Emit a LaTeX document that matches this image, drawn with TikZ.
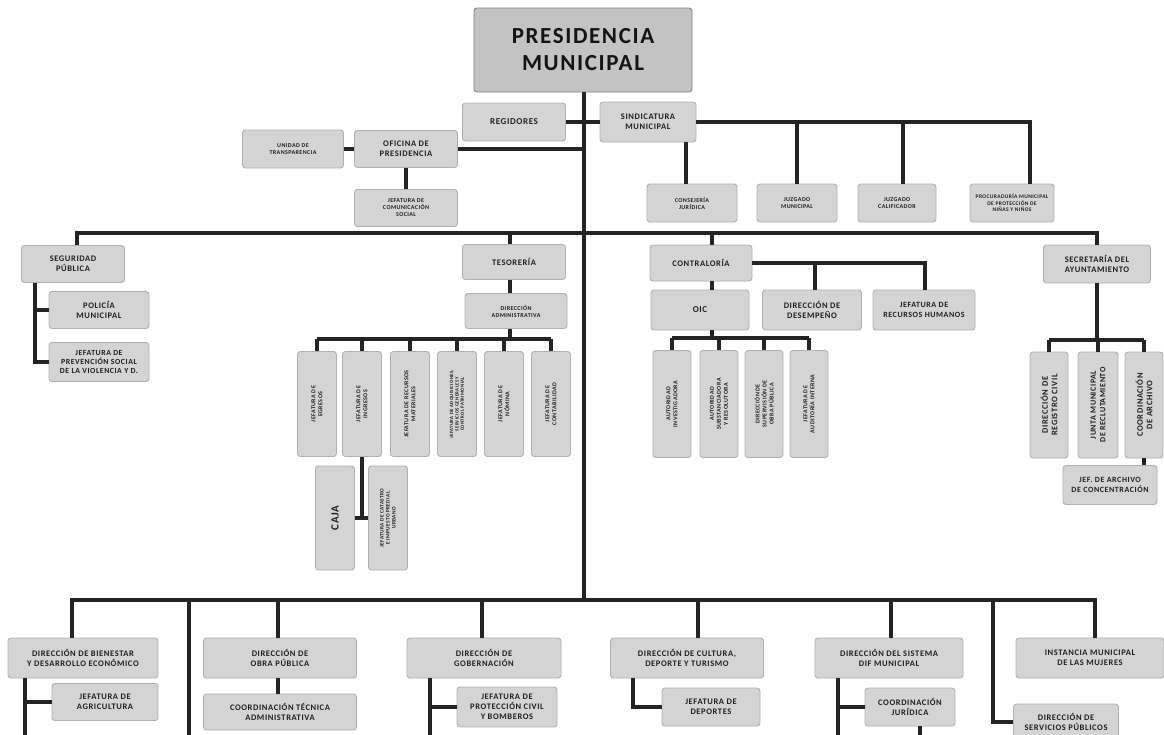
\documentclass[tikz,border=0pt]{standalone}
\usepackage{fontspec}
\setmainfont{Carlito}[LetterSpace=7]
\definecolor{cajagris}{RGB}{212,212,212}
\definecolor{bordegris}{RGB}{176,176,176}
\definecolor{lineagris}{RGB}{36,36,36}
\tikzset{
  unidad/.style={draw=bordegris, fill=cajagris, rounded corners=3pt, align=center,
    inner sep=1pt, line width=0.9pt, text=black!88,
    font=\fontsize{9}{10}\selectfont\bfseries},
  vunidad/.style={unidad, rotate=90},
  chica/.style={font=\fontsize{6}{7}\selectfont\bfseries},
  media/.style={font=\fontsize{8.5}{9.8}\selectfont\bfseries},
  linea/.style={draw=lineagris, line width=3.1pt},
}

\begin{document}
\begin{tikzpicture}[x=1pt,y=-1pt]
  \fill[white] (0,0) rectangle (1164,734);
  \clip (0,0) rectangle (1164,734);

  % arriba
  \node[unidad, minimum width=218, minimum height=84, fill=cajagris!92!black, draw=bordegris!75!black,
    font=\fontsize{23}{27}\selectfont\bfseries, text=black!92] (pres) at (583,50) {PRESIDENCIA\\MUNICIPAL};
  \node[unidad, minimum width=103, minimum height=38] (regid) at (514,122) {REGIDORES};
  \node[unidad, media, minimum width=96, minimum height=40] (sind) at (648,122) {SINDICATURA\\MUNICIPAL};
  \node[unidad, media, minimum width=103, minimum height=37] (ofpres) at (406,149) {OFICINA DE\\PRESIDENCIA};
  \node[unidad, chica, minimum width=101, minimum height=38] (transp) at (293,149) {UNIDAD DE\\TRANSPARENCIA};
  \node[unidad, chica, minimum width=103, minimum height=37] (comsoc) at (406,208) {JEFATURA DE\\COMUNICACIÓN\\SOCIAL};
  \node[unidad, chica, minimum width=90, minimum height=38] (consj) at (692,203) {CONSEJERÍA\\JURÍDICA};
  \node[unidad, chica, minimum width=80, minimum height=38] (juzmun) at (797,203) {JUZGADO\\MUNICIPAL};
  \node[unidad, chica, minimum width=78, minimum height=38] (juzcal) at (897,203) {JUZGADO\\CALIFICADOR};
  \node[unidad, font=\fontsize{5.5}{6.3}\selectfont\bfseries, minimum width=84, minimum height=38] (procu) at (1012,203) {PROCURADURÍA MUNICIPAL\\DE PROTECCIÓN DE\\NIÑAS Y NIÑOS};

  % seguridad
  \node[unidad, media, minimum width=103, minimum height=37] (segp) at (73,264) {SEGURIDAD\\PÚBLICA};
  \node[unidad, media, minimum width=100, minimum height=37] (polic) at (99,310) {POLICÍA\\MUNICIPAL};
  \node[unidad, font=\fontsize{7.8}{9}\selectfont\bfseries, minimum width=100, minimum height=39] (prevs) at (99,362) {JEFATURA DE\\PREVENCIÓN SOCIAL\\DE LA VIOLENCIA Y D.};

  % tesoreria
  \node[unidad, media, minimum width=103, minimum height=35] (teso) at (514,262) {TESORERÍA};
  \node[unidad, chica, minimum width=102, minimum height=35] (diradm) at (516,311) {DIRECCIÓN\\ADMINISTRATIVA};
  \node[vunidad, chica, minimum width=105, minimum height=39] (egr) at (317,404) {JEFATURA DE\\EGRESOS};
  \node[vunidad, chica, minimum width=105, minimum height=39] (ing) at (362,404) {JEFATURA DE\\INGRESOS};
  \node[vunidad, chica, minimum width=105, minimum height=39] (rmat) at (410,404) {JEFATURA DE RECURSOS\\MATERIALES};
  \node[vunidad, font=\fontsize{4.8}{5.4}\selectfont\bfseries, minimum width=105, minimum height=39] (adq) at (457,404) {JEFATURA DE ADQUISICIONES,\\SERVICIOS GENERALES Y\\CONTROL PATRIMONIAL};
  \node[vunidad, chica, minimum width=105, minimum height=39] (nom) at (504,404) {JEFATURA DE\\NÓMINA};
  \node[vunidad, chica, minimum width=105, minimum height=39] (contab) at (551,404) {JEFATURA DE\\CONTABILIDAD};
  \node[vunidad, font=\fontsize{11}{12}\selectfont\bfseries, minimum width=104, minimum height=39] (caja) at (335,518) {CAJA};
  \node[vunidad, font=\fontsize{5.3}{6}\selectfont\bfseries, minimum width=104, minimum height=39] (catas) at (388,518) {JEFATURA DE CATASTRO\\E IMPUESTO PREDIAL\\URBANO};

  % contraloria
  \node[unidad, media, minimum width=102, minimum height=36] (contr) at (701,263) {CONTRALORÍA};
  \node[unidad, minimum width=98, minimum height=40] (oic) at (700,310) {OIC};
  \node[unidad, media, minimum width=99, minimum height=40] (desemp) at (812,310) {DIRECCIÓN DE\\DESEMPEÑO};
  \node[unidad, font=\fontsize{8}{9.3}\selectfont\bfseries, minimum width=102, minimum height=40] (rrhh) at (924,310) {JEFATURA DE\\RECURSOS HUMANOS};
  \node[vunidad, chica, minimum width=107, minimum height=38] (ainv) at (672,404) {AUTORIDAD\\INVESTIGADORA};
  \node[vunidad, chica, minimum width=107, minimum height=38] (asub) at (719,404) {AUTORIDAD\\SUBSTANCIADORA\\Y RESOLUTORA};
  \node[vunidad, chica, minimum width=107, minimum height=38] (supob) at (764,404) {DIRECCIÓN DE\\SUPERVISIÓN DE\\OBRA PÚBLICA};
  \node[vunidad, chica, minimum width=107, minimum height=38] (audi) at (809,404) {JEFATURA DE\\AUDITORÍA INTERNA};

  % secretaria
  \node[unidad, media, minimum width=107, minimum height=38] (secr) at (1097,264) {SECRETARÍA DEL\\AYUNTAMIENTO};
  \node[vunidad, font=\fontsize{8.5}{9.5}\selectfont\bfseries, minimum width=106, minimum height=38] (regc) at (1049,405) {DIRECCIÓN DE\\REGISTRO CIVIL};
  \node[vunidad, font=\fontsize{8}{9.3}\selectfont\bfseries, minimum width=106, minimum height=40] (junta) at (1098,405) {JUNTA MUNICIPAL\\DE RECLUTAMIENTO};
  \node[vunidad, font=\fontsize{8.5}{9.5}\selectfont\bfseries, minimum width=106, minimum height=38] (coar) at (1144,405) {COORDINACIÓN\\DE ARCHIVO};
  \node[unidad, font=\fontsize{8}{9.5}\selectfont\bfseries, minimum width=94, minimum height=39] (arch) at (1110,485) {JEF. DE ARCHIVO\\DE CONCENTRACIÓN};

  % abajo
  \node[unidad, media, minimum width=150, minimum height=40] (bien) at (83,658) {DIRECCIÓN DE BIENESTAR\\Y DESARROLLO ECONÓMICO};
  \node[unidad, media, minimum width=106, minimum height=37] (agri) at (105,702) {JEFATURA DE\\AGRICULTURA};
  \node[unidad, media, minimum width=153, minimum height=40] (obra) at (280,658) {DIRECCIÓN DE\\OBRA PÚBLICA};
  \node[unidad, media, minimum width=153, minimum height=36] (coort) at (280,712) {COORDINACIÓN TÉCNICA\\ADMINISTRATIVA};
  \node[unidad, media, minimum width=154, minimum height=40] (gob) at (484,658) {DIRECCIÓN DE\\GOBERNACIÓN};
  \node[unidad, media, minimum width=100, minimum height=40] (pciv) at (507,707) {JEFATURA DE\\PROTECCIÓN CIVIL\\Y BOMBEROS};
  \node[unidad, media, minimum width=153, minimum height=40] (cult) at (687,658) {DIRECCIÓN DE CULTURA,\\DEPORTE Y TURISMO};
  \node[unidad, media, minimum width=98, minimum height=38] (deport) at (711,707) {JEFATURA DE\\DEPORTES};
  \node[unidad, media, minimum width=148, minimum height=40] (dif) at (889,658) {DIRECCIÓN DEL SISTEMA\\DIF MUNICIPAL};
  \node[unidad, media, minimum width=90, minimum height=38] (cjur) at (910,707) {COORDINACIÓN\\JURÍDICA};
  \node[unidad, media, minimum width=148, minimum height=40] (inst) at (1090,658) {INSTANCIA MUNICIPAL\\DE LAS MUJERES};
  \node[unidad, media, minimum width=105, minimum height=36] (serv) at (1066,722) {DIRECCIÓN DE\\SERVICIOS PÚBLICOS};

  % lineas
  \coordinate (t1) at (584,122);
  \coordinate (b2c) at (584,600);
  \draw[linea] (pres.south -| b2c) -- (b2c);
  \draw[linea] (regid) -- (sind);
  \draw[linea] (ofpres.east) -- (ofpres.east -| t1);
  \draw[linea] (transp) -- (ofpres);
  \draw[linea] (ofpres) -- (comsoc);

  \coordinate (s1) at (686,122);
  \coordinate (s2) at (797,122);
  \coordinate (s3) at (903,122);
  \coordinate (s4) at (1030,122);
  \draw[linea] (sind.east) -- (s4) -- (s4 |- procu.north);
  \draw[linea] (s1 |- sind.south) -- (s1 |- consj.north);
  \draw[linea] (s2) -- (s2 |- juzmun.north);
  \draw[linea] (s3) -- (s3 |- juzcal.north);

  \coordinate (b1L) at (77,233);
  \coordinate (b1R) at (1097,233);
  \draw[linea] (b1L |- segp.north) -- (b1L) -- (b1R) -- (b1R |- secr.north);
  \coordinate (sv) at (35,0);
  \draw[linea] (sv |- segp.south) -- (sv |- prevs) -- (prevs);
  \draw[linea] (sv |- polic) -- (polic);

  \coordinate (b1t) at (510,233);
  \coordinate (tb) at (510,339);
  \draw[linea] (b1t) -- (b1t |- teso.north);
  \draw[linea] (b1t |- teso.south) -- (b1t |- diradm.north);
  \draw[linea] (b1t |- diradm.south) -- (tb);
  \draw[linea] (egr |- tb) -- (contab |- tb);
  \draw[linea] (egr |- tb) -- (egr);
  \draw[linea] (ing |- tb) -- (ing);
  \draw[linea] (rmat |- tb) -- (rmat);
  \draw[linea] (adq |- tb) -- (adq);
  \draw[linea] (nom |- tb) -- (nom);
  \draw[linea] (contab |- tb) -- (contab);
  \draw[linea] (ing) -- (ing |- caja);
  \draw[linea] (caja) -- (catas);

  \coordinate (b1c) at (712,233);
  \coordinate (cb2) at (815,263);
  \coordinate (cb3) at (925,263);
  \coordinate (ob) at (712,338);
  \draw[linea] (b1c) -- (b1c |- contr.north);
  \draw[linea] (b1c |- contr.south) -- (b1c |- oic.north);
  \draw[linea] (contr.east) -- (cb3) -- (cb3 |- rrhh.north);
  \draw[linea] (cb2) -- (cb2 |- desemp.north);
  \draw[linea] (ob |- oic.south) -- (ob);
  \draw[linea] (ainv |- ob) -- (audi |- ob);
  \draw[linea] (ainv |- ob) -- (ainv);
  \draw[linea] (asub |- ob) -- (asub);
  \draw[linea] (supob |- ob) -- (supob);
  \draw[linea] (audi |- ob) -- (audi);

  \coordinate (sb) at (1097,340);
  \draw[linea] (sb |- secr.south) -- (sb);
  \draw[linea] (regc |- sb) -- (coar |- sb);
  \draw[linea] (regc |- sb) -- (regc);
  \draw[linea] (junta |- sb) -- (junta);
  \draw[linea] (coar |- sb) -- (coar);
  \draw[linea] (coar) -- (coar |- arch.north);

  \coordinate (b2L) at (72,600);
  \coordinate (b2R) at (1095,600);
  \draw[linea] (b2L |- bien.north) -- (b2L) -- (b2R) -- (b2R |- inst.north);
  \coordinate (b2x) at (189,600);
  \coordinate (b2xf) at (189,740);
  \draw[linea] (b2x) -- (b2xf);
  \coordinate (bv) at (25,740);
  \draw[linea] (bv |- bien.south) -- (bv);
  \draw[linea] (bv |- agri) -- (agri);
  \coordinate (b2o) at (278,600);
  \draw[linea] (b2o) -- (b2o |- obra.north);
  \draw[linea] (b2o |- obra.south) -- (b2o |- coort.north);
  \coordinate (b2g) at (482,600);
  \coordinate (gv) at (430,740);
  \draw[linea] (b2g) -- (b2g |- gob.north);
  \draw[linea] (gv |- gob.south) -- (gv);
  \draw[linea] (gv |- pciv) -- (pciv);
  \coordinate (b2k) at (698,600);
  \coordinate (cv) at (633,0);
  \draw[linea] (b2k) -- (b2k |- cult.north);
  \draw[linea] (cv |- cult.south) -- (cv |- deport) -- (deport);
  \coordinate (b2d) at (891,600);
  \coordinate (dv) at (838,740);
  \coordinate (cjv) at (920,740);
  \draw[linea] (b2d) -- (b2d |- dif.north);
  \draw[linea] (dv |- dif.south) -- (dv);
  \draw[linea] (dv |- cjur) -- (cjur);
  \draw[linea] (cjv |- cjur.south) -- (cjv);
  \coordinate (b2s) at (993,600);
  \draw[linea] (b2s) -- (b2s |- serv) -- (serv);
\end{tikzpicture}
\end{document}
